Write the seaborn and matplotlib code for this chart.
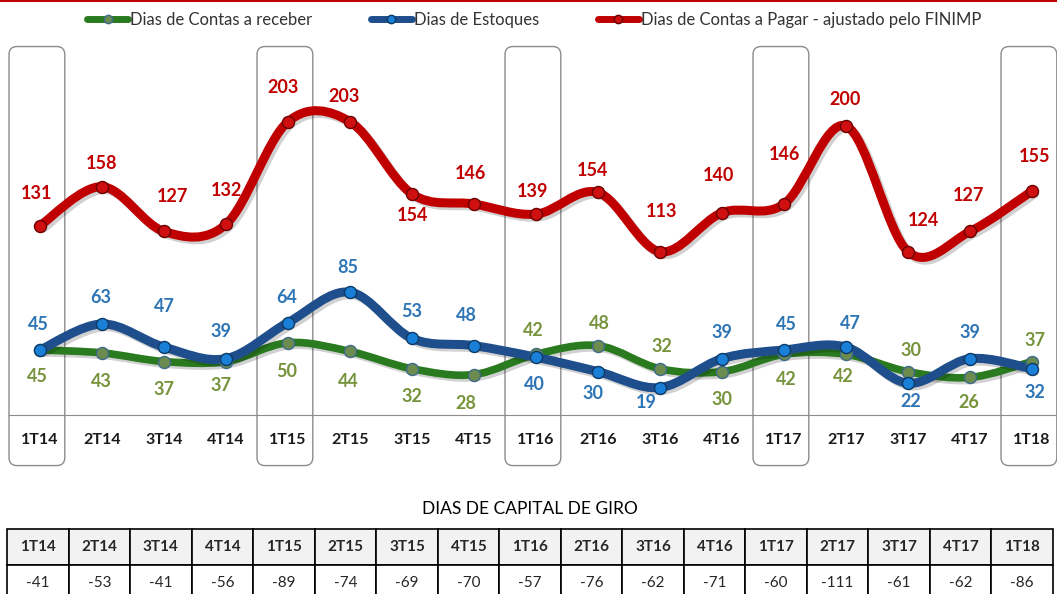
import numpy as np
import matplotlib
matplotlib.use('Agg')
import matplotlib.pyplot as plt
import matplotlib.patheffects as pe
from matplotlib.path import Path
from matplotlib.patches import PathPatch, FancyBboxPatch
from matplotlib.lines import Line2D
import seaborn as sns

# dados
quarters = ['1T14', '2T14', '3T14', '4T14', '1T15', '2T15', '3T15', '4T15', '1T16',
            '2T16', '3T16', '4T16', '1T17', '2T17', '3T17', '4T17', '1T18']
receber = [45, 43, 37, 37, 50, 44, 32, 28, 42, 48, 32, 30, 42, 42, 30, 26, 37]
estoques = [45, 63, 47, 39, 64, 85, 53, 48, 40, 30, 19, 39, 45, 47, 22, 39, 32]
# posicao plotada (3T17 aparece na altura ~113, embora o rotulo diga 124)
pagar = [131, 158, 127, 132, 203, 203, 153, 146, 139, 154, 113, 140, 146, 200, 113, 127, 155]
pagar_rotulos = [131, 158, 127, 132, 203, 203, 154, 146, 139, 154, 113, 140, 146, 200, 124, 127, 155]
capital_giro = [-41, -53, -41, -56, -89, -74, -69, -70, -57, -76, -62, -71, -60, -111, -61, -62, -86]

# deslocamento dos rotulos (pixels)
red_off = [(-3, 32), (0, 23), (9, 35), (1, 34), (-5, 34), (-6, 25), (0, -22), (-3, 31), (-4, 23),
           (-5, 22), (2, 40), (-4, 37), (0, 50), (-1, 27), (15, 31), (-1, 36), (3, 35)]
blue_off = [(-2, 25), (-1, 26), (0, 41), (-5, 27), (-1, 25), (-2, 25), (0, 27), (-8, 30), (-2, -27),
            (-5, -22), (-14, -15), (0, 26), (2, 25), (4, 24), (3, -18), (0, 26), (3, -24)]
green_off = [(-3, -27), (-1, -29), (0, -28), (-5, -24), (-1, -29), (-2, -30), (0, -28), (-8, -29), (-3, 24),
             (1, 22), (2, 22), (0, -28), (2, -25), (-3, -22), (3, 21), (-1, -25), (3, 21)]

sns.set_style('white')
plt.rcParams['font.family'] = ['Lato', 'DejaVu Sans']

W, H = 1057, 594
fig = plt.figure(figsize=(W / 100, H / 100), dpi=100)
ax = fig.add_axes([9 / W, (H - 415) / H, 1054 / W, 240 * 1.445 / H])
ax.set_xlim(-0.5, 16.5)
ax.set_ylim(0, 240)

x = np.arange(len(quarters))


def smooth_path(xs, ys):
    pts = np.column_stack([xs, ys]).astype(float)
    n = len(pts)
    verts = [pts[0]]
    codes = [Path.MOVETO]
    for i in range(n - 1):
        p0 = pts[i - 1] if i > 0 else pts[i]
        p1 = pts[i]
        p2 = pts[i + 1]
        p3 = pts[i + 2] if i + 2 < n else pts[i + 1]
        verts += [p1 + (p2 - p0) / 6, p2 - (p3 - p1) / 6, p2]
        codes += [Path.CURVE4] * 3
    return Path(verts, codes)


series = [
    (receber, '#2a7a1f', 5.5, '#6b8b4f', '#3f6a8a', '#77933c', green_off, receber),
    (estoques, '#1f4e8c', 6.5, '#1a7fd6', '#0d3a66', '#2e75b6', blue_off, estoques),
    (pagar, '#c00000', 6.5, '#d01010', '#6a0000', '#c00000', red_off, pagar_rotulos),
]

shadow = [pe.SimpleLineShadow(offset=(2, -2), shadow_color='black', alpha=0.18), pe.Normal()]

for vals, lc, lw, mfc, mec, tc, offs, rot in series:
    patch = PathPatch(smooth_path(x, vals), fill=False, edgecolor=lc, lw=lw,
                      capstyle='round', joinstyle='round', zorder=3)
    patch.set_path_effects(shadow)
    ax.add_patch(patch)

for vals, lc, lw, mfc, mec, tc, offs, rot in series:
    sns.scatterplot(x=x, y=vals, ax=ax, s=75, color=mfc, edgecolor=mec, linewidth=1.0,
                    zorder=5, legend=False)
    for xi, yi, (dx, dy), r in zip(x, vals, offs, rot):
        ax.annotate(str(r), (xi, yi), xytext=(dx, dy), textcoords='offset pixels',
                    ha='center', va='center', fontsize=13, fontweight='bold', color=tc, zorder=6)

# caixas arredondadas nos primeiros trimestres
for i in range(0, len(quarters), 4):
    box = FancyBboxPatch((i - 0.5, -35), 0.9, 290,
                         boxstyle='round,pad=0,rounding_size=0.13',
                         mutation_aspect=62 / 1.445, ec='#8c8c8c', fc='none', lw=1.0,
                         clip_on=False, zorder=1)
    ax.add_patch(box)

for s in ['top', 'left', 'right']:
    ax.spines[s].set_visible(False)
ax.spines['bottom'].set_color('#8c8c8c')
ax.set_yticks([])
ax.set_xticks(x)
ax.set_xticklabels(quarters, fontsize=11.5, fontweight='bold', color='#1a1a1a')
ax.set_xticks(np.arange(-0.5, 17, 1), minor=True)
ax.tick_params(axis='x', which='major', length=0, pad=13)
ax.tick_params(axis='x', which='minor', length=5, color='#8c8c8c', direction='out')

handles = [
    Line2D([], [], color='#2a7a1f', lw=5, marker='o', markersize=6, markerfacecolor='#6b8b4f', markeredgecolor='#3f6a8a'),
    Line2D([], [], color='#1f4e8c', lw=5, marker='o', markersize=6, markerfacecolor='#1a7fd6', markeredgecolor='#0d3a66'),
    Line2D([], [], color='#c00000', lw=5, marker='o', markersize=6, markerfacecolor='#d01010', markeredgecolor='#6a0000'),
]
labels = ['Dias de Contas a receber', 'Dias de Estoques', 'Dias de Contas a Pagar - ajustado pelo FINIMP']
leg = fig.legend(handles, labels, loc='center', bbox_to_anchor=(534 / W, 1 - 20 / H), ncol=3,
                 frameon=False, fontsize=12, handlelength=2.5, handletextpad=0.1, columnspacing=3.5)
for t in leg.get_texts():
    t.set_color('#333333')

fig.add_artist(Line2D([0, 1], [0.998, 0.998], transform=fig.transFigure, color='#c00000', lw=1.5))

fig.text(530 / W, 1 - 509 / H, 'DIAS DE CAPITAL DE GIRO', ha='center', va='center', fontsize=12.5, color='black')

ax_t = fig.add_axes([7 / W, -7 / H, 1046 / W, 72 / H])
ax_t.axis('off')
tbl = ax_t.table(cellText=[[str(v) for v in capital_giro]], colLabels=quarters,
                 cellLoc='center', bbox=[0, 0, 1, 1])
tbl.auto_set_font_size(False)
for (r, c), cell in tbl.get_celld().items():
    cell.set_edgecolor('black')
    cell.set_linewidth(1.2)
    if r == 0:
        cell.set_facecolor('#f2f2f2')
        cell.get_text().set_fontweight('bold')
        cell.get_text().set_fontsize(11)
    else:
        cell.get_text().set_fontsize(11)

fig.savefig('out.png', dpi=100)
